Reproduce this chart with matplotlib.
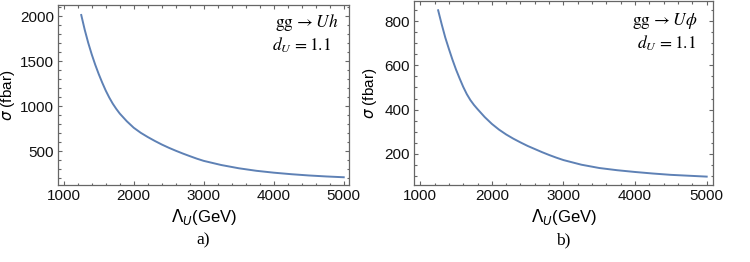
import numpy as np
import matplotlib.pyplot as plt
from matplotlib.ticker import MultipleLocator

# Lambda_U (GeV)
lam = [1250, 1300, 1350, 1400, 1450, 1500, 1550, 1600, 1650, 1700, 1750, 1800,
       1900, 2000, 2100, 2200, 2300, 2400, 2500, 2600, 2700, 2800,
       2900, 3000, 3250, 3500, 3750, 4000, 4250, 4500, 4750, 5000]
# sigma (fbar), gg -> U h
sigma_uh = [2015, 1850, 1705, 1577, 1462, 1358, 1263, 1175, 1098, 1030, 972, 920,
            835, 762, 706, 659, 616, 576, 540, 507, 476, 447,
            419, 394, 348, 312, 284, 263, 246, 232, 221, 212]
# sigma (fbar), gg -> U phi
sigma_uphi = [850, 786, 726, 675, 626, 581, 541, 503, 470, 443, 421, 402,
              366, 335, 309, 287, 268, 251, 235, 221, 207, 194,
              182, 171, 150, 135, 125, 117, 110, 104, 100, 96]

panels = [
    dict(y=sigma_uh, proc=r'$\mathrm{gg}\,\rightarrow Uh$', tag='a)',
         rect=[58/750, 1-185/262, 291/750, 180/262],
         xlim=(918, 5075), ylim=(126, 2126), ymin=100,
         yticks=[500, 1000, 1500, 2000], ylab_x=-0.141,
         t1=(0.962, 0.905), t2=(0.938, 0.775)),
    dict(y=sigma_uphi, proc=r'$\mathrm{gg}\,\rightarrow U\phi$', tag='b)',
         rect=[414/750, 1-185/262, 299/750, 184/262],
         xlim=(913, 5088), ylim=(58, 892), ymin=50,
         yticks=[200, 400, 600, 800], ylab_x=-0.117,
         t1=(0.949, 0.893), t2=(0.943, 0.768)),
]

plt.rcParams['font.family'] = ['Liberation Sans', 'DejaVu Sans']
fig = plt.figure(figsize=(7.5, 2.62), dpi=100)

frame_col = '#666666'
for p in panels:
    ax = fig.add_axes(p['rect'])
    ax.plot(lam, p['y'], color='#5E81B5', lw=1.4)
    ax.set_xlim(*p['xlim'])
    ax.set_ylim(*p['ylim'])
    ax.set_xticks([1000, 2000, 3000, 4000, 5000])
    ax.xaxis.set_minor_locator(MultipleLocator(200))
    ax.set_yticks(p['yticks'])
    ax.yaxis.set_minor_locator(MultipleLocator(p['ymin']))
    ax.tick_params(which='both', direction='in', top=True, right=True,
                   color=frame_col, labelsize=11, labelcolor='#111111', width=0.8)
    ax.tick_params(which='major', length=3.2, pad=3)
    ax.tick_params(which='minor', length=1.8)
    for s in ax.spines.values():
        s.set_color(frame_col)
        s.set_linewidth(0.9)
    ax.set_xlabel(r'$\Lambda_U$(GeV)', fontsize=12, labelpad=3)
    ax.set_ylabel(r'$\sigma$ (fbar)', fontsize=11)
    ax.yaxis.set_label_coords(p['ylab_x'], 0.5)
    ax.text(*p['t1'], p['proc'], transform=ax.transAxes, ha='right', va='center',
            fontsize=12.5, math_fontfamily='stix')
    ax.text(*p['t2'], r'$d_U\,=1.1$', transform=ax.transAxes, ha='right', va='center',
            fontsize=12.5, math_fontfamily='stix')
    x0, y0, w, h = p['rect']
    fig.text(x0 + w/2, 1-240/262, p['tag'], ha='center', va='center',
             fontsize=12.5, family='Liberation Serif')

fig.savefig('out.png', dpi=100)
